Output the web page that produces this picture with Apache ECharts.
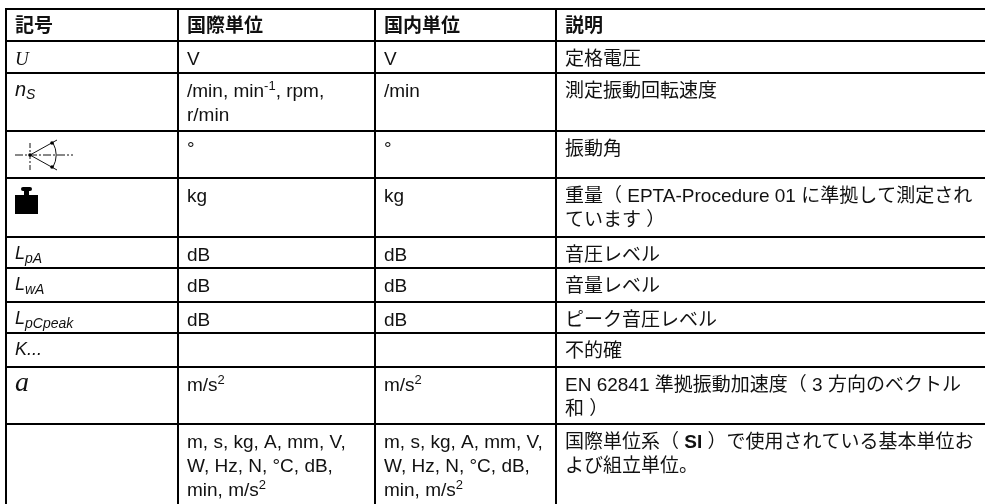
<!DOCTYPE html>
<html><head><meta charset="utf-8">
<style>html,body{margin:0;padding:0;background:#fff}#c{width:985px;height:504px}</style>
<script src="https://cdn.jsdelivr.net/npm/echarts@6/dist/echarts.min.js"></script>
</head><body><div id="c"></div>
<script>
const headers = ['記号','国際単位','国内単位','説明'];
const symbols = ['{ser|U}','{it|n}{itsub|S}','@angle','@weight','{it2|L}{itsub|pA}','{it2|L}{itsub|wA}','{it2|L}{itsub|pCpeak}','{it2|K...}','{big|a}',''];
const intlUnits = ['V','/min, min{sup|-1}, rpm,\nr/min','°','kg','dB','dB','dB','','m/s{sup|2}','m, s, kg, A, mm, V,\nW, Hz, N, °C, dB,\nmin, m/s{sup|2}'];
const domUnits = ['V','/min','°','kg','dB','dB','dB','','m/s{sup|2}','m, s, kg, A, mm, V,\nW, Hz, N, °C, dB,\nmin, m/s{sup|2}'];
const notes = ['定格電圧','測定振動回転速度','振動角','重量（ EPTA-Procedure 01 に準拠して測定され\nています ）','音圧レベル','音量レベル','ピーク音圧レベル','不的確','EN 62841 準拠振動加速度（ 3 方向のベクトル\n和 ）','国際単位系（ {b|SI} ）で使用されている基本単位お\nよび組立単位。'];
const colEdges = [6,178,375,556,985];
const rowEdges = [9,41,73,131,178,237,268,302,333,367,424,504];

const FONT = '"Liberation Sans","Noto Sans CJK JP",sans-serif';
const cells = [];
headers.forEach((t,c)=>cells.push([c,0,t,1]));
[symbols,intlUnits,domUnits,notes].forEach((col,c)=>col.forEach((t,r)=>cells.push([c,r+1,t,0])));
const hLines = rowEdges.slice(0,-1), vLines = colEdges.slice(0,-1);
const LH = 24;
const FS = 19;
const rich = {
  sup:{fontSize:13,verticalAlign:'top',lineHeight:LH,fontFamily:FONT,color:'#111'},
  b:{fontWeight:'bold',fontSize:FS,lineHeight:LH,fontFamily:FONT,color:'#111'},
  ser:{fontFamily:'"Liberation Serif"',fontStyle:'italic',fontSize:19,color:'#555',lineHeight:LH},
  it:{fontFamily:'"Liberation Sans"',fontStyle:'italic',fontSize:20,color:'#111',lineHeight:LH},
  it2:{fontFamily:'"Liberation Sans"',fontStyle:'italic',fontSize:18,color:'#111',lineHeight:LH},
  itsub:{fontFamily:'"Liberation Sans"',fontStyle:'italic',fontSize:14,color:'#111',verticalAlign:'bottom',lineHeight:LH},
  big:{fontFamily:'"Liberation Serif"',fontStyle:'italic',fontSize:28,color:'#111',lineHeight:LH}
};
function icon(name,x,y){
  if(name==='@weight') return {type:'group',x,y,children:[
    {type:'rect',shape:{x:0,y:8,width:23,height:19},style:{fill:'#000'}},
    {type:'rect',shape:{x:9,y:3,width:5,height:6},style:{fill:'#000'}},
    {type:'rect',shape:{x:6,y:0,width:11,height:4,r:2},style:{fill:'#000'}}]};
  const ls={stroke:'#111',lineWidth:1,fill:null};
  return {type:'group',x,y,children:[
    {type:'line',shape:{x1:0,y1:15,x2:58,y2:15},style:{...ls,lineDash:[8,2,2,2]}},
    {type:'line',shape:{x1:15,y1:3,x2:15,y2:30},style:{...ls,lineDash:[5,2,2,2]}},
    {type:'line',shape:{x1:15,y1:15,x2:42,y2:0},style:ls},
    {type:'line',shape:{x1:15,y1:15,x2:42,y2:30},style:ls},
    {type:'arc',shape:{cx:15,cy:15,r:26,startAngle:-0.5,endAngle:0.5},style:ls},
    {type:'circle',shape:{cx:15,cy:15,r:1.8},style:{fill:'#000'}},
    {type:'circle',shape:{cx:37,cy:3,r:1.8},style:{fill:'#000'}},
    {type:'circle',shape:{cx:37,cy:27,r:1.8},style:{fill:'#000'}}]};
}
const chart = echarts.init(document.getElementById('c'),null,{renderer:'canvas'});
chart.setOption({
  animation:false,
  grid:{left:0,right:0,top:0,bottom:0},
  xAxis:{type:'value',min:0,max:985,show:false},
  yAxis:{type:'value',min:0,max:504,inverse:true,show:false},
  series:[
   {type:'custom',coordinateSystem:'cartesian2d',silent:true,clip:false,
    encode:{x:0,y:1},data:cells.map(c=>[colEdges[c[0]],rowEdges[c[1]],c[2],c[3]]),
    renderItem(p,api){
      const d=cells[p.dataIndex];
      const pt=api.coord([colEdges[d[0]],rowEdges[d[1]]]);
      const t=d[2];
      if(t[0]==='@') return icon(t,pt[0]+9,pt[1]+9);
      const dy = d[3] ? 6 : (d[0]===0 && d[1]>1 ? 5 : 7);
      return {type:'text',x:pt[0]+9,y:pt[1]+dy,style:{text:t,font:(d[3]?'bold ':'')+FS+'px '+FONT,fill:'#111',lineHeight:LH,rich,verticalAlign:'top',align:'left'}};
    }},
   {type:'custom',coordinateSystem:'cartesian2d',silent:true,clip:false,
    encode:{x:0,y:1},data:hLines.map(y=>[colEdges[0],y]),
    renderItem(p,api){
      const a=api.coord([colEdges[0],hLines[p.dataIndex]]),b=api.coord([colEdges[4],hLines[p.dataIndex]]);
      return {type:'line',shape:{x1:a[0]-1,y1:a[1],x2:b[0],y2:b[1]},style:{stroke:'#000',lineWidth:2}};
    }},
   {type:'custom',coordinateSystem:'cartesian2d',silent:true,clip:false,
    encode:{x:0,y:1},data:vLines.map(x=>[x,rowEdges[0]]),
    renderItem(p,api){
      const a=api.coord([vLines[p.dataIndex],rowEdges[0]]),b=api.coord([vLines[p.dataIndex],rowEdges[11]]);
      return {type:'line',shape:{x1:a[0],y1:a[1]-1,x2:b[0],y2:b[1]},style:{stroke:'#000',lineWidth:2}};
    }}
  ]
});
</script></body></html>
